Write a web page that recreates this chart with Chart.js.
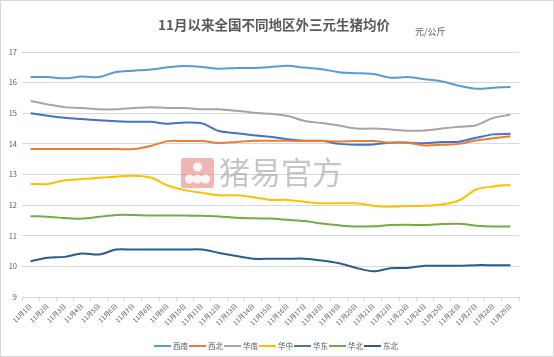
<!DOCTYPE html>
<html><head><meta charset="utf-8">
<script src="https://cdn.jsdelivr.net/npm/chart.js@4/dist/chart.umd.min.js"></script>
<style>
html,body{margin:0;padding:0;background:#fff;}
#wrap{position:relative;width:554px;height:357px;box-sizing:border-box;border:1px solid #d9d9d9;}
canvas{position:absolute;left:0;top:0;}
</style></head>
<body><div id="wrap"><canvas id="c" width="554" height="357"></canvas></div>
<script>
const categories = ["11月1日","11月2日","11月3日","11月4日","11月5日","11月6日","11月7日","11月8日","11月9日","11月10日","11月11日","11月12日","11月13日","11月14日","11月15日","11月16日","11月17日","11月18日","11月19日","11月20日","11月21日","11月22日","11月23日","11月24日","11月25日","11月26日","11月27日","11月28日","11月29日"];
const seriesNames = ["西南","西北","华南","华中","华东","华北","东北"];
const xinan  = [16.18,16.18,16.14,16.20,16.18,16.35,16.39,16.43,16.50,16.54,16.51,16.45,16.48,16.48,16.51,16.55,16.49,16.44,16.34,16.31,16.28,16.16,16.18,16.11,16.04,15.90,15.80,15.83,15.86];
const xibei  = [13.83,13.83,13.83,13.83,13.83,13.83,13.83,13.93,14.09,14.09,14.09,14.03,14.06,14.10,14.10,14.10,14.09,14.09,14.08,14.09,14.09,14.04,14.04,13.95,13.97,14.00,14.11,14.18,14.25];
const huanan = [15.40,15.29,15.20,15.17,15.13,15.13,15.17,15.20,15.17,15.17,15.13,15.13,15.08,15.02,14.98,14.91,14.75,14.68,14.60,14.50,14.50,14.47,14.43,14.44,14.50,14.56,14.61,14.85,14.95];
const huazhong = [12.69,12.69,12.81,12.85,12.89,12.93,12.96,12.90,12.64,12.49,12.40,12.32,12.32,12.26,12.17,12.17,12.11,12.06,12.06,12.06,11.98,11.95,11.97,11.98,12.02,12.15,12.51,12.61,12.66];
const huadong = [15.00,14.92,14.85,14.81,14.77,14.74,14.72,14.72,14.66,14.70,14.67,14.42,14.35,14.28,14.23,14.15,14.10,14.10,14.00,13.97,13.98,14.04,14.04,14.02,14.06,14.07,14.20,14.31,14.33];
const huabei = [11.64,11.62,11.58,11.56,11.62,11.68,11.68,11.66,11.66,11.66,11.65,11.63,11.59,11.57,11.56,11.52,11.48,11.40,11.34,11.30,11.31,11.35,11.36,11.35,11.38,11.39,11.33,11.30,11.30];
const dongbei = [10.17,10.28,10.31,10.42,10.39,10.55,10.55,10.55,10.55,10.55,10.55,10.44,10.34,10.25,10.25,10.25,10.25,10.19,10.10,9.95,9.84,9.94,9.95,10.02,10.02,10.02,10.04,10.04,10.04];
const yTicks = [9,10,11,12,13,14,15,16,17];
const titleText = "11月以来全国不同地区外三元生猪均价";
const unitText = "元/公斤";
const watermarkText = "猪易官方";

const colors = ["#5B9BD5","#ED7D31","#A5A5A5","#FFC000","#4472C4","#70AD47","#255E91"];
const allSeries = [xinan, xibei, huanan, huazhong, huadong, huabei, dongbei];
const FONT = "'Noto Sans CJK SC','Noto Sans',sans-serif";

const datasets = allSeries.map((d,i)=>({
  label: seriesNames[i], data: d, borderColor: colors[i], backgroundColor: colors[i],
  borderWidth: 2, pointRadius: 0, tension: 0.3, fill: false
}));

const decor = {
  id: 'decor',
  beforeDatasetsDraw(chart){
    const ctx = chart.ctx;
    ctx.save();
    // watermark
    ctx.fillStyle = 'rgba(232,120,120,0.55)';
    ctx.beginPath();
    if (ctx.roundRect) ctx.roundRect(180,157,33,30,3); else ctx.rect(180,157,33,30);
    ctx.fill();
    ctx.fillStyle = 'rgba(255,255,255,0.9)';
    [[196.5,166,4.5],[188.5,178,4.5],[196.5,178,4.5],[204.5,178,4.5]].forEach(c=>{ctx.beginPath();ctx.arc(c[0],c[1],c[2],0,Math.PI*2);ctx.fill();});
    ctx.fillStyle = 'rgba(150,150,150,0.55)';
    ctx.font = "31px " + FONT;
    ctx.textBaseline = 'middle';
    ctx.textAlign = 'left';
    ctx.fillText(watermarkText, 218, 171);
    ctx.restore();
  },
  afterDraw(chart){
    const ctx = chart.ctx;
    ctx.save();
    ctx.fillStyle = '#595959';
    ctx.font = "bold 13.5px " + FONT;
    ctx.textAlign = 'center';
    ctx.textBaseline = 'middle';
    ctx.fillText(titleText, 273, 24);
    ctx.font = "9px " + FONT;
    ctx.textAlign = 'left';
    ctx.fillText(unitText, 414, 31);
    // legend
    ctx.font = "7.5px " + FONT;
    let x = 153; const y = 345;
    chart.data.datasets.forEach((ds)=>{
      ctx.strokeStyle = ds.borderColor; ctx.lineWidth = 2;
      ctx.beginPath(); ctx.moveTo(x, y); ctx.lineTo(x+17, y); ctx.stroke();
      ctx.fillStyle = '#595959';
      ctx.fillText(ds.label, x+19, y);
      x += 35;
    });
    ctx.restore();
  }
};

new Chart(document.getElementById('c'), {
  type: 'line',
  data: { labels: categories, datasets },
  options: {
    responsive: false, animation: false, devicePixelRatio: 1,
    layout: { padding: { top: 51, right: 36, left: 0, bottom: 0 } },
    plugins: { legend: { display: false }, title: { display: false }, tooltip: { enabled: false } },
    scales: {
      x: {
        offset: true,
        grid: { display: true, drawOnChartArea: false, drawTicks: true, tickLength: 4, color: '#d9d9d9', offset: true },
        border: { display: true, color: '#d9d9d9' },
        ticks: { autoSkip: false, maxRotation: 45, minRotation: 45, padding: 1, color: '#595959', font: { size: 6.5, family: FONT } },
        afterFit(s){ s.height = 61; }
      },
      y: {
        min: 9, max: 17,
        afterBuildTicks(s){ s.ticks = yTicks.map(v=>({value:v})); },
        grid: { color: '#d9d9d9', drawTicks: false },
        border: { display: false },
        ticks: { padding: 5, color: '#595959', font: { size: 7.5, family: FONT } },
        afterFit(s){ s.width = 21; }
      }
    }
  },
  plugins: [decor]
});
</script>
</body></html>
